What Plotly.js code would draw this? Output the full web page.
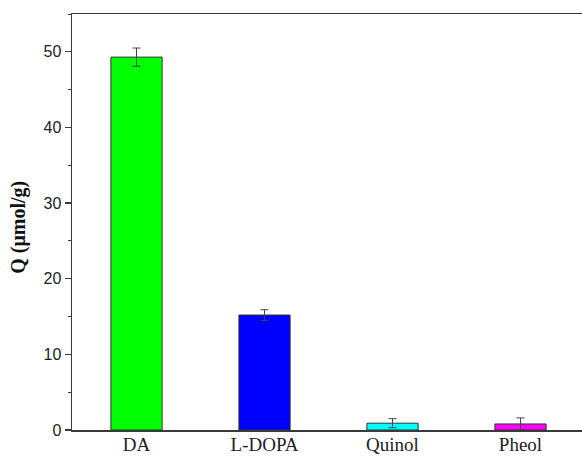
<!DOCTYPE html>
<html>
<head>
<meta charset="utf-8">
<script src="https://cdn.plot.ly/plotly-3.0.1.min.js"></script>
<style>html,body{margin:0;padding:0;background:#fff;overflow:hidden;width:582px;height:457px;}</style>
</head>
<body>
<div id="chart" style="width:590px;height:457px;"></div>
<script>
var categories = ["DA", "L-DOPA", "Quinol", "Pheol"];
var values = [49.3, 15.2, 0.9, 0.8];
var errors = [1.2, 0.7, 0.6, 0.8];
var barColors = ["#00ff00", "#0000ff", "#00ffff", "#ff00ff"];
var yTickVals = [0, 10, 20, 30, 40, 50];

var trace = {
  type: "bar",
  x: categories,
  y: values,
  width: 0.4,
  marker: {color: barColors, line: {color: "#333333", width: 1}},
  error_y: {type: "data", array: errors, visible: true, color: "#444444", thickness: 1, width: 4}
};

var layout = {
  width: 590, height: 457,
  margin: {l: 72, r: 0, t: 14, b: 27},
  paper_bgcolor: "#ffffff", plot_bgcolor: "#ffffff",
  showlegend: false,
  xaxis: {
    type: "category",
    range: [-0.504, 3.543],
    showline: true, linecolor: "#3a3a3a", linewidth: 1.5, mirror: true,
    ticks: "", showgrid: false, zeroline: false,
    ticklabelstandoff: -3,
    tickfont: {family: "Liberation Serif", size: 19, color: "#222222"}
  },
  yaxis: {
    range: [0, 55],
    tickvals: yTickVals,
    ticks: "outside", ticklen: 6, tickwidth: 1.2, tickcolor: "#3a3a3a",
    minor: {dtick: 5, ticks: "outside", ticklen: 3, tickwidth: 1, tickcolor: "#3a3a3a", showgrid: false},
    showline: true, linecolor: "#3a3a3a", linewidth: 1.5, mirror: false,
    showgrid: false, zeroline: false,
    tickfont: {family: "Liberation Sans", size: 16, color: "#222222"}
  },
  annotations: [{
    text: "Q (μmol/g)", textangle: -90, showarrow: false,
    xref: "paper", yref: "paper", x: 0, y: 0.486, xanchor: "center", yanchor: "middle",
    xshift: -53,
    font: {family: "Liberation Serif", size: 20, weight: "bold", color: "#111111"}
  }]
};

Plotly.newPlot("chart", [trace], layout, {displayModeBar: false, staticPlot: true});
</script>
</body>
</html>
